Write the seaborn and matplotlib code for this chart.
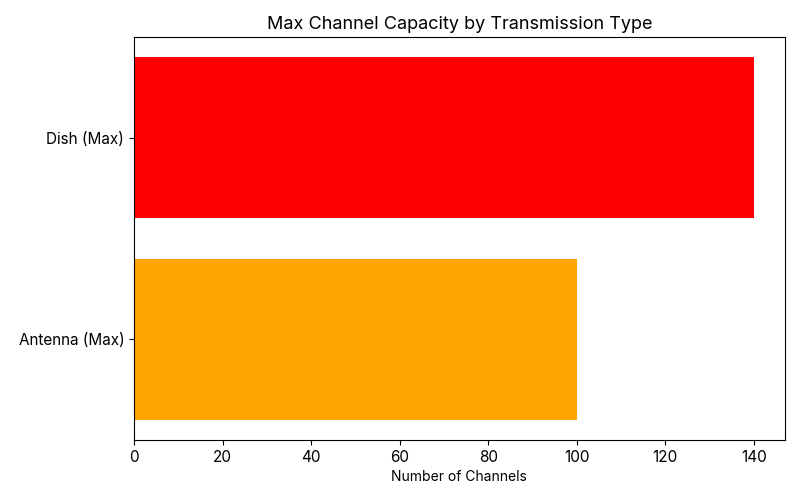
import matplotlib
matplotlib.use("Agg")
import matplotlib.pyplot as plt
import seaborn as sns
import pandas as pd

categories = ["Dish (Max)", "Antenna (Max)"]
channels = [140, 100]
colors = ["#ff0000", "#ffa500"]

plt.rcParams['font.family'] = ['Inter', 'DejaVu Sans']

df = pd.DataFrame({"Type": categories, "Channels": channels})

fig, ax = plt.subplots(figsize=(8, 5), dpi=100)
sns.barplot(data=df, x="Channels", y="Type", hue="Type", palette=colors,
            legend=False, ax=ax, width=0.8, saturation=1)
ax.set_xlim(0, 147)
ax.set_title("Max Channel Capacity by Transmission Type", fontsize=13)
ax.set_xlabel("Number of Channels", fontsize=10)
ax.set_ylabel("")
ax.tick_params(axis='both', labelsize=11)
for s in ax.spines.values():
    s.set_visible(True)
    s.set_color("black")
fig.subplots_adjust(left=0.1675, right=0.981, top=0.926, bottom=0.12)
fig.savefig("out.png")
